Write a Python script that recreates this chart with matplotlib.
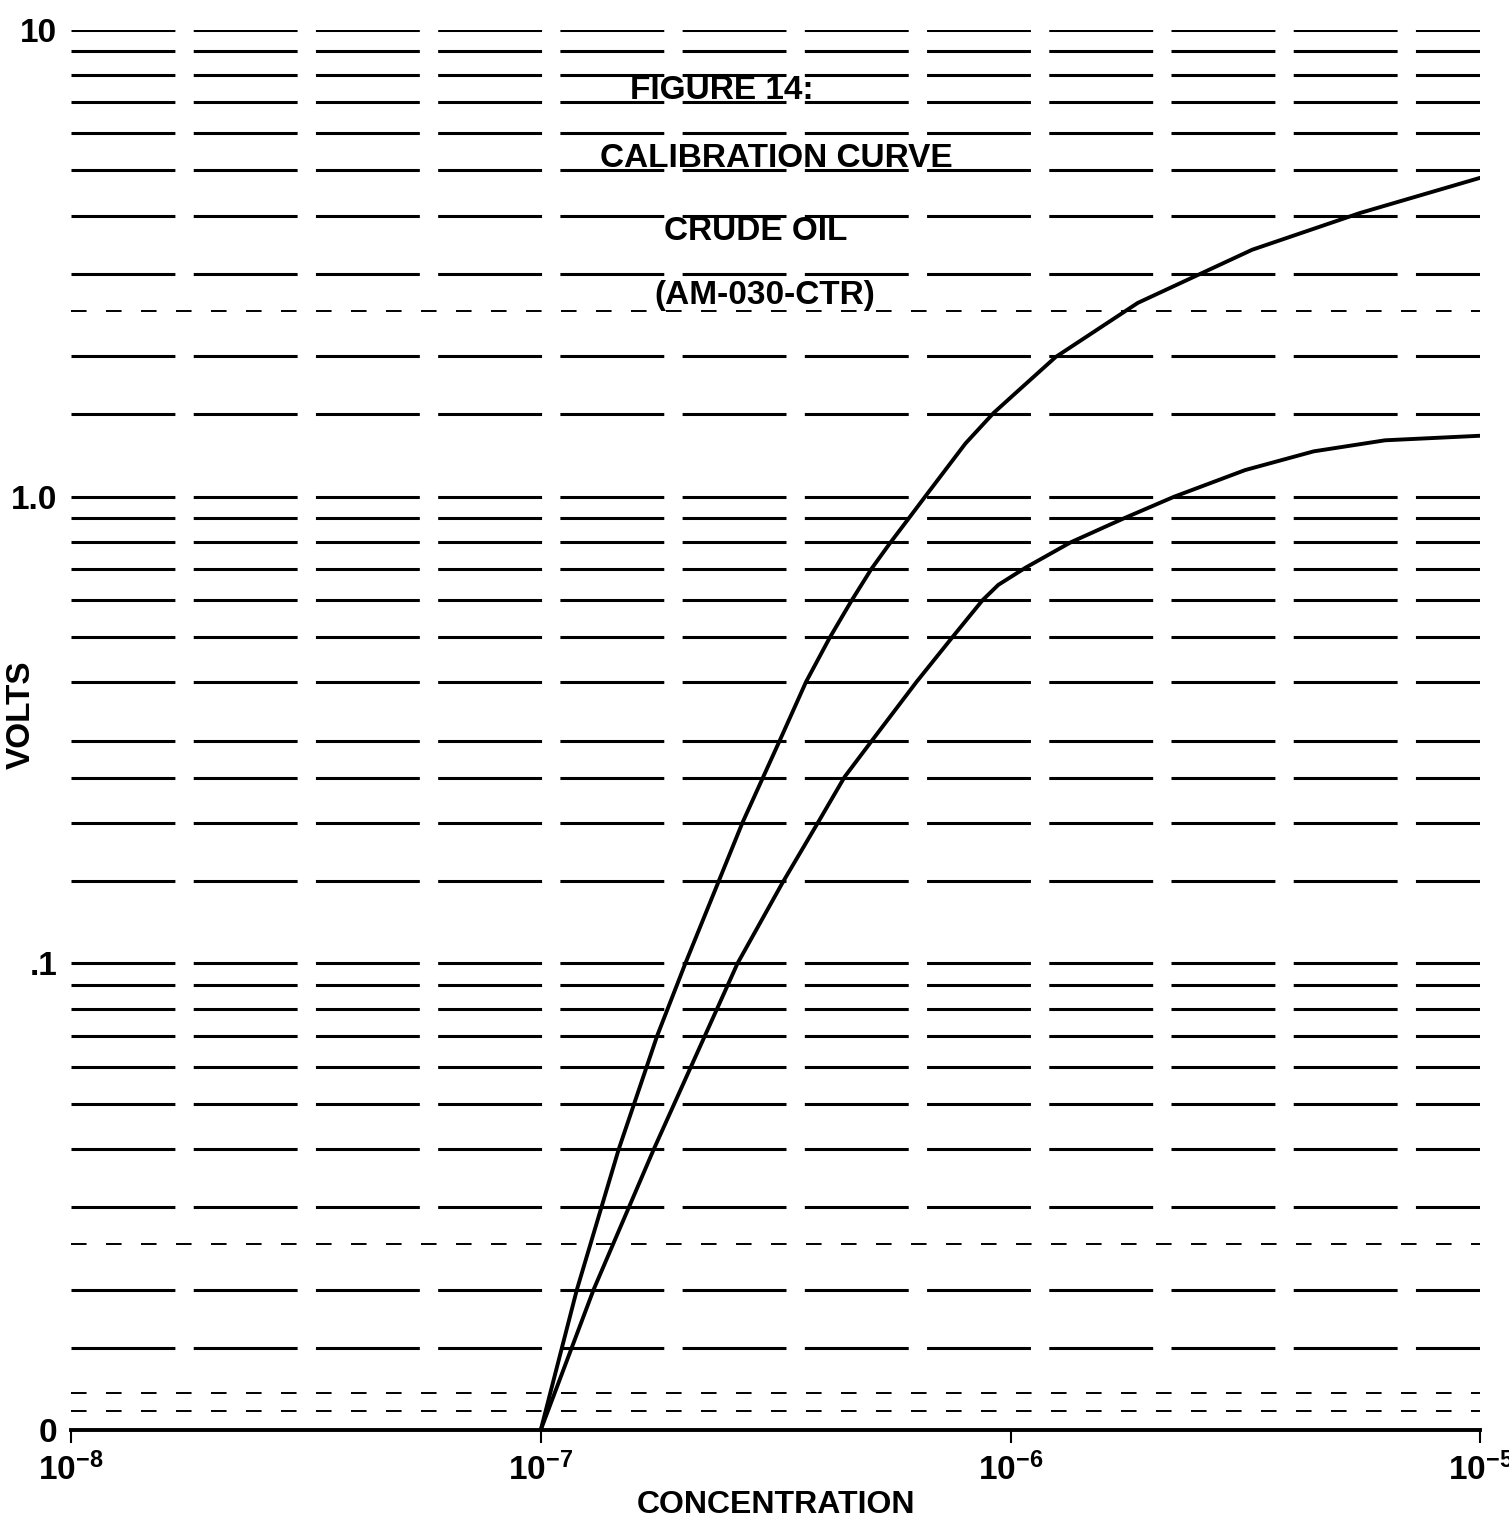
import matplotlib
matplotlib.use('Agg')
import matplotlib.pyplot as plt
from matplotlib.ticker import NullLocator

plt.rcParams['font.family'] = ['Liberation Sans', 'DejaVu Sans']
plt.rcParams['font.weight'] = 'bold'
plt.rcParams['mathtext.fontset'] = 'custom'
plt.rcParams['mathtext.rm'] = 'Liberation Sans:bold'
plt.rcParams['mathtext.it'] = 'Liberation Sans:bold'
plt.rcParams['mathtext.bf'] = 'Liberation Sans:bold'
plt.rcParams['mathtext.default'] = 'rm'

# upper calibration curve (concentration, volts)
upper_conc = [1.0e-7, 1.194e-7, 1.466e-7, 1.770e-7, 2.032e-7, 2.687e-7, 3.221e-7,
              3.671e-7, 4.120e-7, 4.581e-7, 5.057e-7, 5.535e-7, 6.057e-7, 6.571e-7,
              8.02e-7, 9.20e-7, 1.014e-6, 1.247e-6, 1.866e-6, 3.27e-6, 5.54e-6,
              1.0e-5]
upper_volts = [0.010, 0.020, 0.040, 0.070, 0.100, 0.200, 0.299,
               0.401, 0.498, 0.597, 0.700, 0.794, 0.895, 0.998,
               1.30, 1.51, 1.65, 1.99, 2.60, 3.38, 4.05,
               4.82]

# lower calibration curve
lower_conc = [1.0e-7, 1.296e-7, 1.741e-7, 2.624e-7, 3.273e-7, 3.889e-7, 4.436e-7,
              5.057e-7, 6.31e-7, 7.50e-7, 8.72e-7, 9.42e-7, 1.076e-6, 1.343e-6,
              1.742e-6, 2.228e-6, 3.16e-6, 4.42e-6, 6.27e-6, 1.0e-5]
lower_volts = [0.010, 0.020, 0.040, 0.100, 0.149, 0.200, 0.251,
               0.299, 0.401, 0.498, 0.600, 0.647, 0.704, 0.798,
               0.898, 0.999, 1.14, 1.25, 1.32, 1.35]

x_ticks = [1e-8, 1e-7, 1e-6, 1e-5]
x_labels = ['$10^{-8}$', '$10^{-7}$', '$10^{-6}$', '$10^{-5}$']
y_ticks = [0.01, 0.1, 1.0, 10]
y_labels = ['0', '.1', '1.0', '10']

# horizontal rulings of the semi-log paper
rulings = [0.015, 0.02, 0.03, 0.04, 0.05, 0.06, 0.07, 0.08, 0.09,
           0.1, 0.15, 0.2, 0.25, 0.3, 0.4, 0.5, 0.6, 0.7, 0.8, 0.9,
           1.0, 1.5, 2, 3, 4, 5, 6, 7, 8, 9, 10]
faint_rulings = [0.011, 0.012, 0.025, 2.5]

title_lines = ['FIGURE 14:', 'CALIBRATION CURVE', 'CRUDE OIL', '(AM-030-CTR)']
title_x = [2.43e-7, 3.17e-7, 2.87e-7, 3.00e-7]
title_y = [7.12, 5.09, 3.55, 2.58]

fig = plt.figure(figsize=(15.09, 15.22), dpi=100)
ax = fig.add_axes([0.047, 0.0604, 0.934, 0.920])

ax.set_xscale('log')
ax.set_yscale('log')
ax.set_xlim(1e-8, 1e-5)
ax.set_ylim(0.01, 10)

for g in rulings:
    ax.axhline(g, color='black', lw=2.2, dashes=(34, 6), zorder=1)
for g in faint_rulings:
    ax.axhline(g, color='black', lw=1.4, dashes=(8, 10), zorder=1)

ax.plot(upper_conc, upper_volts, color='black', lw=2.8, zorder=3,
        solid_joinstyle='round')
ax.plot(lower_conc, lower_volts, color='black', lw=2.8, zorder=3,
        solid_joinstyle='round')

for s in ['top', 'right', 'left']:
    ax.spines[s].set_visible(False)
ax.spines['bottom'].set_linewidth(2.8)

ax.set_xticks(x_ticks)
ax.set_xticklabels(x_labels, fontsize=24)
ax.xaxis.set_minor_locator(NullLocator())
ax.tick_params(axis='x', direction='out', length=9, width=1.5, pad=7)

ax.set_yticks(y_ticks)
ax.set_yticklabels(y_labels, fontsize=24)
ax.yaxis.set_minor_locator(NullLocator())
ax.tick_params(axis='y', length=0, pad=10)

ax.set_xlabel('CONCENTRATION', fontsize=23, fontweight='bold', labelpad=2)
ax.set_ylabel('VOLTS', fontsize=24, fontweight='bold')
ax.yaxis.set_label_coords(-0.024, 0.511)

for t, tx, ty in zip(title_lines, title_x, title_y):
    ax.text(tx, ty, t, fontsize=24, fontweight='bold', ha='center',
            va='baseline', zorder=4)

fig.savefig('out.png', dpi=100)
